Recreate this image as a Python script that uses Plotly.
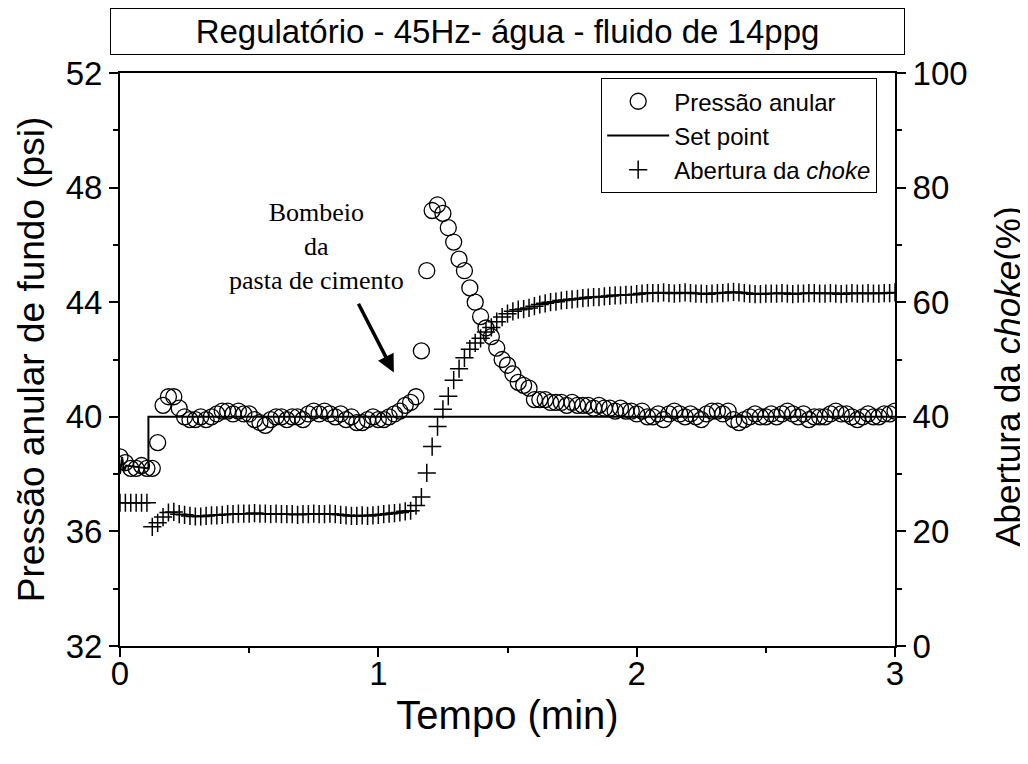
import numpy as np
import plotly.graph_objects as go

# Logger samples every 1.25 s (1/48 min), 0 .. 3 min
sample_interval_min = 1.25 / 60.0

pressure_psi = [
    38.6, 38.4, 38.2, 38.2, 38.3, 38.2, 38.2, 39.1, 40.4, 40.7, 40.7, 40.3,
    40.0, 39.9, 39.9, 40.0, 39.9, 40.0, 40.1, 40.2, 40.2, 40.1,
    40.2, 40.1, 40.1, 39.9, 39.8, 39.7, 39.9, 40.0, 40.0, 39.9,
    40.0, 40.0, 39.9, 40.1, 40.2, 40.1, 40.2, 40.1, 40.0, 40.1,
    39.9, 40.0, 39.8, 39.8, 39.9, 40.0, 39.9, 39.9, 40.0, 40.1,
    40.2, 40.4, 40.5, 40.7, 42.3, 45.1, 47.2, 47.4, 47.1, 46.6,
    46.1, 45.5, 45.1, 44.5, 44.0, 43.5, 43.1, 42.8, 42.4, 42.0,
    41.8, 41.5, 41.2, 41.1, 41.0, 40.6, 40.6, 40.6,
    40.5, 40.5, 40.5, 40.4, 40.5, 40.4, 40.4, 40.4, 40.3, 40.4,
    40.3, 40.3, 40.2, 40.3, 40.2, 40.2, 40.1, 40.2, 40.0, 40.0,
    40.1, 39.9, 40.1, 40.2, 40.1, 40.0, 40.1, 40.0, 39.9, 40.1,
    40.2, 40.2, 40.1, 40.2, 39.9, 39.8, 39.9, 40.0, 40.1, 40.0,
    40.0, 40.1, 40.0, 40.1, 40.2, 40.1, 40.0, 40.1, 39.9, 40.0,
    40.0, 40.0, 40.1, 40.2, 40.1, 40.1, 40.0, 39.9, 40.0, 40.1,
    40.0, 40.0, 40.1, 40.1, 40.2,
]

choke_pct = [
    25.0, 25.0, 25.0, 25.0, 25.0, 25.0, 20.8, 21.5, 22.5, 23.3, 23.4, 23.0,
    22.9, 22.7, 22.6, 22.6, 22.7, 22.8, 22.8, 22.9, 23.0, 23.0,
    23.1, 23.1, 23.1, 23.2, 23.1, 23.1, 23.0, 23.1, 23.0, 23.0,
    23.0, 22.9, 23.0, 23.0, 23.1, 23.0, 23.0, 23.1, 23.0, 22.9,
    22.8, 22.7, 22.7, 22.8, 22.7, 22.8, 22.9, 23.0, 23.1, 23.2,
    23.3, 23.5, 23.6, 24.5, 26.0, 30.2, 34.8, 38.3, 41.3, 43.6,
    46.4, 48.4, 50.3, 51.8, 52.9, 53.7, 54.8, 55.6, 56.6, 57.4,
    58.0, 58.4, 58.7, 58.8, 59.0, 59.3, 59.6, 59.8,
    60.0, 60.1, 60.3, 60.4, 60.5, 60.6, 60.7, 60.8, 60.9, 60.9,
    61.0, 61.1, 61.2, 61.2, 61.3, 61.3, 61.4, 61.5, 61.6, 61.6,
    61.6, 61.7, 61.6, 61.5, 61.6, 61.7, 61.6, 61.5, 61.5, 61.4,
    61.5, 61.6, 61.6, 61.7, 61.8, 61.7, 61.6, 61.5, 61.4, 61.4,
    61.5, 61.5, 61.5, 61.6, 61.5, 61.4, 61.5, 61.5, 61.6, 61.6,
    61.5, 61.5, 61.6, 61.5, 61.4, 61.5, 61.6, 61.5, 61.5, 61.6,
    61.5, 61.5, 61.6, 61.6, 61.7,
]

setpoint_time = [0.0, 0.008, 0.016, 0.024, 0.11, 0.11, 3.0]
setpoint_psi = [38.0, 38.6, 38.1, 38.3, 38.2, 40.0, 40.0]

time_min = np.arange(len(pressure_psi)) * sample_interval_min

font = "Arial, Liberation Sans, sans-serif"

fig = go.Figure()
fig.add_trace(
    go.Scatter(
        x=time_min,
        y=pressure_psi,
        mode="markers",
        name="Pressão anular",
        marker=dict(symbol="circle-open", size=16, color="black", line=dict(width=1.3)),
    )
)
fig.add_trace(
    go.Scatter(
        x=setpoint_time,
        y=setpoint_psi,
        mode="lines",
        name="Set point",
        line=dict(color="black", width=2),
    )
)
fig.add_trace(
    go.Scatter(
        x=time_min,
        y=choke_pct,
        yaxis="y2",
        mode="markers",
        name="Abertura da <i>choke</i>",
        marker=dict(symbol="cross-thin-open", size=13, color="black", line=dict(width=1.5, color="black")),
    )
)

axis_common = dict(
    showline=True,
    linecolor="black",
    linewidth=2,
    ticks="outside",
    ticklen=9,
    tickwidth=2,
    tickcolor="black",
    showgrid=False,
    zeroline=False,
    tickfont=dict(family=font, size=33, color="black"),
)

# page body has an 8px margin, so margins are offset to put the plot at 120..895 x 73..646
fig.update_layout(
    width=1028,
    height=764,
    margin=dict(l=112, r=141, t=65, b=126),
    plot_bgcolor="white",
    paper_bgcolor="white",
    font=dict(family=font, color="black"),
    xaxis=dict(
        axis_common,
        range=[0, 3],
        dtick=1,
        mirror=True,
        ticklabelstandoff=-12,
        minor=dict(dtick=0.5, ticklen=5, tickwidth=2, ticks="outside", tickcolor="black"),
        title=dict(text="Tempo (min)", font=dict(family=font, size=40), standoff=10),
    ),
    yaxis=dict(
        axis_common,
        range=[32, 52],
        dtick=4,
        minor=dict(dtick=2, ticklen=5, tickwidth=2, ticks="outside", tickcolor="black"),
        title=dict(text="Pressão anular de fundo (psi)", font=dict(family=font, size=37), standoff=10),
    ),
    yaxis2=dict(
        axis_common,
        overlaying="y",
        side="right",
        range=[0, 100],
        dtick=20,
        minor=dict(dtick=10, ticklen=5, tickwidth=2, ticks="outside", tickcolor="black"),
    ),
    legend=dict(
        x=0.977,
        y=0.991,
        xanchor="right",
        yanchor="top",
        bgcolor="white",
        bordercolor="black",
        borderwidth=1,
        font=dict(family=font, size=24, color="black"),
        itemwidth=62,
        tracegroupgap=0,
    ),
    showlegend=True,
)

# Right axis title
fig.add_annotation(
    text="Abertura da <i>choke</i>(%)",
    xref="paper",
    yref="paper",
    x=1.146,
    y=0.47,
    xanchor="center",
    yanchor="middle",
    textangle=-90,
    showarrow=False,
    font=dict(family=font, size=35, color="black"),
)

# Boxed title
fig.add_annotation(
    text="Regulatório - 45Hz- água - fluido de 14ppg",
    xref="paper",
    yref="paper",
    x=0.5,
    y=1.0314,
    xanchor="center",
    yanchor="bottom",
    showarrow=False,
    width=785,
    height=37,
    borderpad=4,
    bordercolor="black",
    borderwidth=1,
    bgcolor="white",
    font=dict(family=font, size=33, color="black"),
)

# Event annotation
fig.add_annotation(
    text="Bombeio<br>da<br>pasta de cimento",
    x=0.76,
    y=45.95,
    xref="x",
    yref="y",
    showarrow=False,
    align="center",
    font=dict(family="Liberation Serif, Times New Roman, serif", size=26, color="black"),
)
fig.add_annotation(
    x=1.06,
    y=41.55,
    ax=0.92,
    ay=44.0,
    xref="x",
    yref="y",
    axref="x",
    ayref="y",
    text="",
    showarrow=True,
    arrowhead=2,
    arrowsize=1,
    arrowwidth=3.5,
    arrowcolor="black",
)

fig.write_html("out.html")
